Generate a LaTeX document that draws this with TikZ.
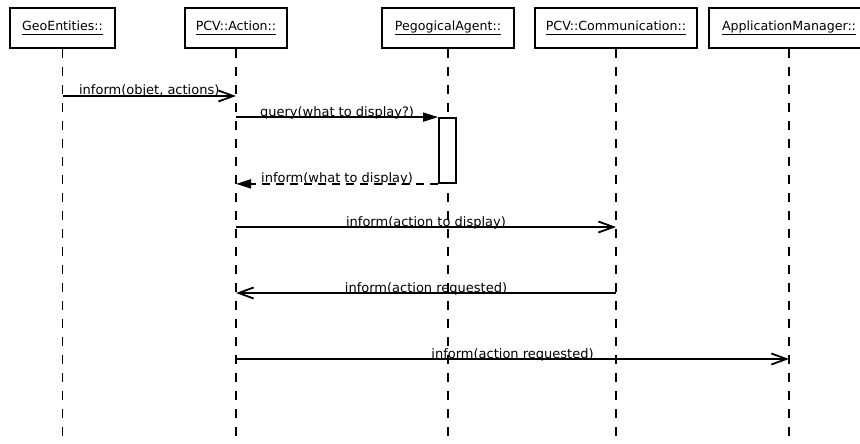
\documentclass[tikz,border=0pt]{standalone}
\usepackage{fontspec}
\setmainfont{DejaVu Sans}
\usetikzlibrary{arrows.meta}
\newcommand\hdr[1]{\underline{#1\vphantom{gp}}}

\tikzset{
  actor/.style={draw, line width=2pt, minimum height=40pt, inner xsep=8pt, font=\fontsize{12.6}{15}\selectfont},
  lifeline/.style={line width=1.2pt, dash pattern=on 9pt off 9pt},
  msg/.style={line width=1.8pt, -{Straight Barb[length=15pt,width=11pt,line width=1.8pt]}},
  call/.style={line width=1.8pt, -{Triangle[length=15pt,width=9pt]}},
  reply/.style={call, dash pattern=on 8pt off 6pt},
  txt/.style={anchor=base, inner sep=0pt, yshift=1pt, font=\fontsize{13}{15}\selectfont},
  activation/.style={draw, fill=white, line width=1.8pt, minimum width=17pt, minimum height=65pt, inner sep=0pt}
}

\begin{document}
\begin{tikzpicture}[x=1pt,y=-1pt]
		%%%%% START %%%%%
		\useasboundingbox (0,0) rectangle (860,444);
		\coordinate (bottom) at (0,444);
		
		\node[actor, minimum width=105pt] (geo) at (62.5,28) {\hdr{GeoEntities::}};
		\node[actor, minimum width=102pt] (act) at (236,28) {\hdr{PCV::Action::}};
		\node[actor, minimum width=132pt] (ped) at (448,28) {\hdr{PegogicalAgent::}};
		\node[actor, minimum width=162pt] (com) at (616,28) {\hdr{PCV::Communication::}};
		\node[actor, minimum width=160pt] (app) at (789,28) {\hdr{ApplicationManager::}};
		
		\foreach \n in {geo,act,ped,com,app}
			\draw[lifeline] (\n.south) -- (\n.south |- bottom);
		
		\node[activation] (pedrun) at (447.5,150.5) {};
		
		\coordinate (m1) at (0,96);
		\coordinate (m4) at (0,227);
		\coordinate (m5) at (0,293);
		\coordinate (m6) at (0,359);
		
		\draw[msg] (geo |- m1) -- node[txt] {inform(objet, actions)} (act |- m1);
		\draw[call] (act |- pedrun.north west) -- node[txt] {query(what to display?)} (pedrun.north west);
		\draw[reply] (pedrun.south west) -- node[txt] {inform(what to display)} (act |- pedrun.south west);
		
		\draw[msg] (act |- m4) -- node[txt] {inform(action to display)} (com |- m4);
		\draw[msg] (com |- m5) -- node[txt] {inform(action requested)} (act |- m5);
		\draw[msg] (act |- m6) -- node[txt] {inform(action requested)} (app |- m6);
		
		%%%%% END %%%%%
\end{tikzpicture}
\end{document}
